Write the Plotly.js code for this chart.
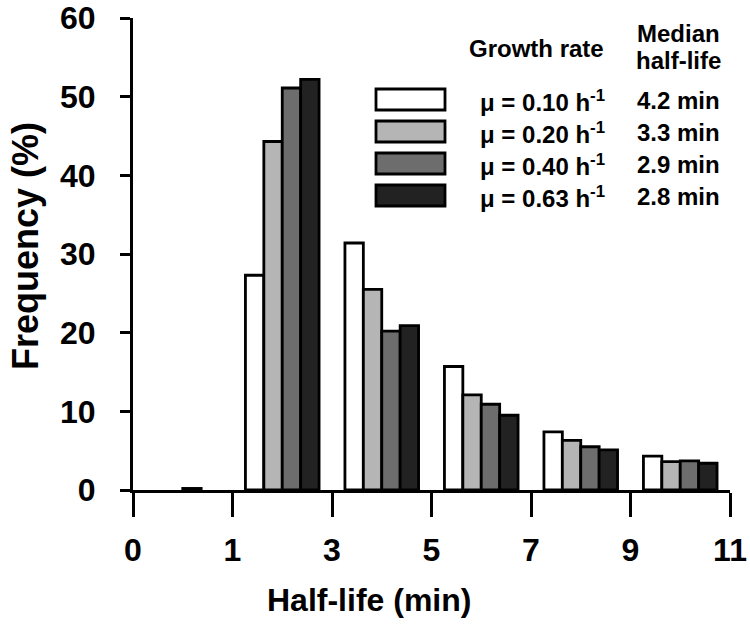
<!DOCTYPE html>
<html>
<head>
<meta charset="utf-8">
<script src="https://cdn.plot.ly/plotly-3.0.1.min.js"></script>
<style>html,body{margin:0;padding:0;background:#fff;}#chart{width:750px;height:628px;}</style>
</head>
<body>
<div id="chart"></div>
<script>
// ---- data ----
var binEdgeLabels = ["0", "1", "3", "5", "7", "9", "11"];
var growthRates = ["0.10", "0.20", "0.40", "0.63"];
var medianHalfLives = ["4.2", "3.3", "2.9", "2.8"];
// null = no bar drawn in that bin
var freqMu010 = [null, 27.3, 31.4, 15.7, 7.4, 4.3];
var freqMu020 = [null, 44.3, 25.5, 12.1, 6.3, 3.6];
var freqMu040 = [0.2, 51.1, 20.2, 10.9, 5.5, 3.7];
var freqMu063 = [null, 52.2, 20.9, 9.5, 5.1, 3.4];

// ---- styling ----
var colors = ["#ffffff", "#b5b5b5", "#6d6d6d", "#222222"];
var seriesValues = [freqMu010, freqMu020, freqMu040, freqMu063];
var FONT = "Liberation Sans, Arial, Helvetica, sans-serif";

var W = 750, H = 628;
var M = {l: 133, r: 20, t: 18, b: 138};
var plotW = W - M.l - M.r, plotH = H - M.t - M.b;
function xp(px) { return (px - M.l) / plotW; }
function yp(py) { return (H - M.b - py) / plotH; }

var binCenters = binEdgeLabels.slice(0, -1).map(function (_, i) { return i + 0.5; });
var tickPositions = binEdgeLabels.map(function (_, i) { return i; });

var traces = seriesValues.map(function (vals, i) {
  return {
    type: "bar",
    x: binCenters,
    y: vals,
    name: "μ = " + growthRates[i] + " h<sup>-1</sup>",
    marker: {color: colors[i], line: {color: "#000", width: 2.8}},
    showlegend: false,
    hoverinfo: "skip"
  };
});

var LEG = 24;
var shapes = [];
var annotations = [];
var rowY = [99.5, 131.5, 163.5, 195.5];
growthRates.forEach(function (g, i) {
  shapes.push({
    type: "rect", xref: "paper", yref: "paper",
    x0: xp(376), x1: xp(445), y0: yp(rowY[i] + 10.5), y1: yp(rowY[i] - 10.5),
    fillcolor: colors[i], line: {color: "#000", width: 2.8}
  });
  annotations.push({
    xref: "paper", yref: "paper", x: xp(478), y: yp(rowY[i] + 1),
    xanchor: "left", yanchor: "middle", showarrow: false,
    text: "μ = " + g + " h<sup>-1</sup>",
    font: {family: FONT, size: LEG, color: "#000", weight: "bold"}
  });
  annotations.push({
    xref: "paper", yref: "paper", x: xp(678), y: yp(rowY[i] + 1),
    xanchor: "center", yanchor: "middle", showarrow: false,
    text: medianHalfLives[i] + " min",
    font: {family: FONT, size: LEG, color: "#000", weight: "bold"}
  });
});
annotations.push({
  xref: "paper", yref: "paper", x: xp(536), y: yp(48),
  xanchor: "center", yanchor: "middle", showarrow: false,
  text: "Growth rate",
  font: {family: FONT, size: LEG, color: "#000", weight: "bold"}
});
annotations.push({
  xref: "paper", yref: "paper", x: xp(678), y: yp(33),
  xanchor: "center", yanchor: "middle", showarrow: false,
  text: "Median",
  font: {family: FONT, size: LEG, color: "#000", weight: "bold"}
});
annotations.push({
  xref: "paper", yref: "paper", x: xp(678), y: yp(61),
  xanchor: "center", yanchor: "middle", showarrow: false,
  text: "half-life",
  font: {family: FONT, size: LEG, color: "#000", weight: "bold"}
});
// axis titles
annotations.push({
  xref: "paper", yref: "paper", x: xp(369), y: yp(600),
  xanchor: "center", yanchor: "middle", showarrow: false,
  text: "Half-life (min)",
  font: {family: FONT, size: 32, color: "#000", weight: "bold"}
});
annotations.push({
  xref: "paper", yref: "paper", x: xp(25), y: yp(246),
  xanchor: "center", yanchor: "middle", showarrow: false, textangle: -90,
  text: "Frequency (%)",
  font: {family: FONT, size: 36, color: "#000", weight: "bold"}
});

var layout = {
  width: W, height: H,
  margin: M,
  paper_bgcolor: "#fff", plot_bgcolor: "#fff",
  barmode: "group", bargap: 0.26, bargroupgap: 0,
  showlegend: false,
  xaxis: {
    range: [0, binEdgeLabels.length - 1], autorange: false,
    tickmode: "array", tickvals: tickPositions, ticktext: binEdgeLabels,
    showline: true, linecolor: "#000", linewidth: 3,
    ticks: "outside", ticklen: 24, tickwidth: 3, tickcolor: "#000",
    ticklabelstandoff: 6,
    tickfont: {family: FONT, size: 32, color: "#000", weight: "bold"},
    showgrid: false, zeroline: false, fixedrange: true
  },
  yaxis: {
    range: [0, 60], autorange: false,
    tickmode: "array", tickvals: [0, 10, 20, 30, 40, 50, 60],
    showline: true, linecolor: "#000", linewidth: 3,
    ticks: "outside", ticklen: 10, tickwidth: 3, tickcolor: "#000",
    ticklabelstandoff: 18,
    tickfont: {family: FONT, size: 32, color: "#000", weight: "bold"},
    showgrid: false, zeroline: false, fixedrange: true
  },
  shapes: shapes,
  annotations: annotations
};

Plotly.newPlot("chart", traces, layout, {displayModeBar: false, staticPlot: true});
</script>
</body>
</html>
